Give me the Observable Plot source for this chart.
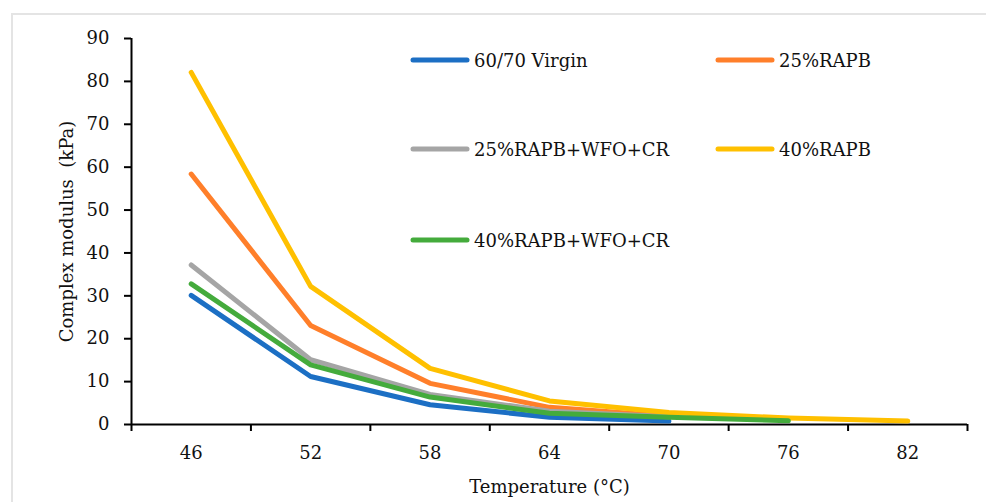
<!DOCTYPE html>
<html>
<head>
<meta charset="utf-8">
<script src="https://cdn.jsdelivr.net/npm/d3@7"></script>
<script src="https://cdn.jsdelivr.net/npm/@observablehq/plot@0.6"></script>
<style>
  html, body { margin: 0; padding: 0; background: #fff; overflow: hidden; }
  #wrap { position: relative; width: 986px; height: 502px; overflow: hidden; }
  #frame { position: absolute; left: 11px; top: 13px; width: 1200px; height: 800px;
           border-left: 2px solid #e4e4e4; border-top: 2px solid #e4e4e4; box-sizing: border-box; }
  #chart { position: absolute; left: 0; top: 0; }
  .legend { position: absolute; font-family: "DejaVu Serif", serif; font-size: 18px; color: #111;
            display: flex; align-items: center; white-space: nowrap; }
  .legend svg { display: block; margin-right: 3px; }
</style>
</head>
<body>
<div id="wrap">
  <div id="frame"></div>
  <div id="chart"></div>
</div>
<script>
const temps = [46, 52, 58, 64, 70, 76, 82];
const seriesNames = ["60/70 Virgin", "25%RAPB", "25%RAPB+WFO+CR", "40%RAPB", "40%RAPB+WFO+CR"];
const seriesColors = ["#1c6fc4", "#ff7f2a", "#a5a5a5", "#ffc000", "#44ab3c"];
const virgin = [30.1, 11.2, 4.6, 1.7, 0.8];
const rapb25 = [58.4, 23.1, 9.6, 4.0, 1.9];
const rapb25wfo = [37.2, 15.1, 7.0, 3.1, 1.8];
const rapb40 = [82.1, 32.2, 13.1, 5.5, 2.8, 1.5, 0.8];
const rapb40wfo = [32.8, 13.9, 6.4, 2.6, 1.7, 0.85];
const yTicks = [0, 10, 20, 30, 40, 50, 60, 70, 80, 90];
const xBoundaries = [43, 49, 55, 61, 67, 73, 79, 85];

const allSeries = [virgin, rapb25, rapb25wfo, rapb40, rapb40wfo];
const rows = allSeries.map((vals, i) =>
  vals.map((v, j) => ({series: seriesNames[i], temp: temps[j], value: v})));

const lineMarks = rows.map((data, i) =>
  Plot.line(data, {x: "temp", y: "value", stroke: seriesColors[i], strokeWidth: 5,
    strokeLinecap: "round", strokeLinejoin: "round"}));

const FS = 18;
const chart = Plot.plot({
  width: 986,
  height: 502,
  marginLeft: 131,
  marginRight: 19,
  marginTop: 38,
  marginBottom: 78,
  style: {fontFamily: "DejaVu Serif, serif", fontSize: "18px", color: "#111", background: "transparent"},
  x: {type: "linear", domain: [43, 85]},
  y: {domain: [0, 90]},
  marks: [
    Plot.axisY({ticks: yTicks, tickSize: 7, tickPadding: 15, strokeWidth: 2, label: null, stroke: "#000", fontSize: FS}),
    Plot.axisX({ticks: xBoundaries, tickSize: 7, tickFormat: () => "", strokeWidth: 2, label: null, stroke: "#000"}),
    Plot.axisX({ticks: temps, tickSize: 0, tickPadding: 22, label: null, fontSize: FS}),
    Plot.ruleX([43], {stroke: "#000", strokeWidth: 2}),
    Plot.ruleY([0], {stroke: "#000", strokeWidth: 2}),
    ...lineMarks,
    Plot.text(["Complex modulus  (kPa)"], {frameAnchor: "left", textAnchor: "middle", dx: -64, rotate: -90, fontSize: FS, fill: "#111"}),
    Plot.text(["Temperature (°C)"], {frameAnchor: "bottom", dy: 68, fontSize: FS, fill: "#111"})
  ]
});
document.getElementById("chart").appendChild(chart);

// legend
const legendPos = [[413, 60], [718, 60], [413, 149], [718, 149], [413, 240]];
const wrap = document.getElementById("wrap");
seriesNames.forEach((name, i) => {
  const d = document.createElement("div");
  d.className = "legend";
  d.style.left = (legendPos[i][0] - 3) + "px";
  d.style.top = (legendPos[i][1] - 12) + "px";
  d.style.height = "24px";
  d.innerHTML = `<svg width="61" height="10"><line x1="3" y1="5" x2="57" y2="5" stroke="${seriesColors[i]}" stroke-width="5" stroke-linecap="round"/></svg><span>${name}</span>`;
  wrap.appendChild(d);
});
</script>
</body>
</html>
